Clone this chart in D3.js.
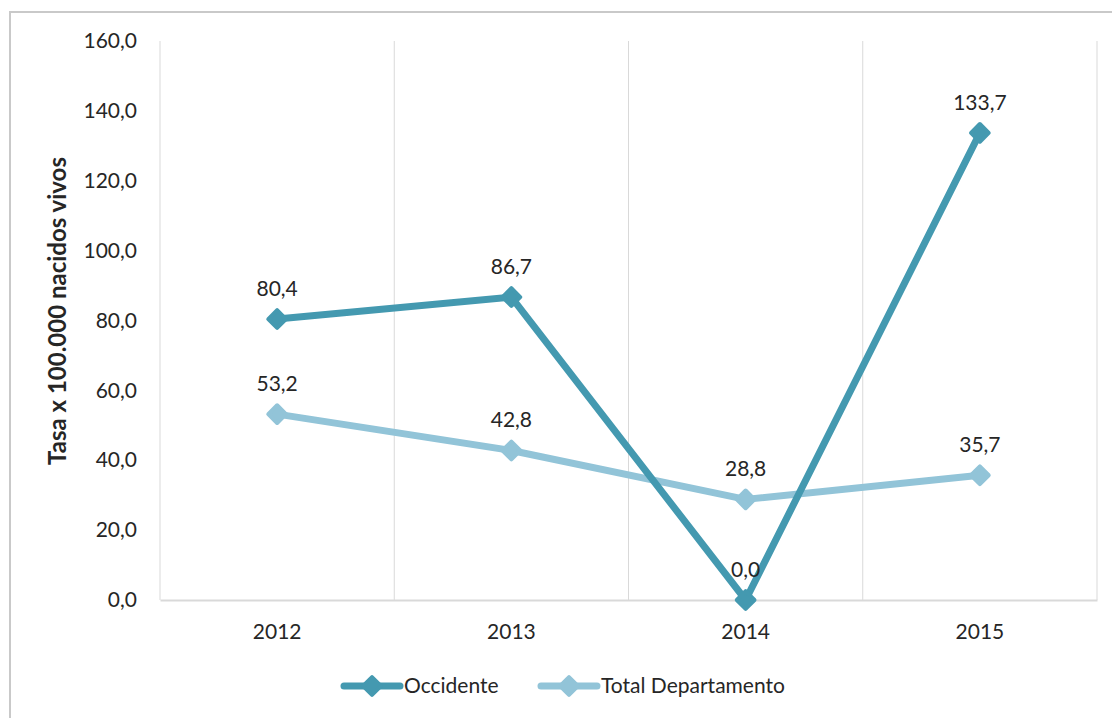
<!DOCTYPE html>
<html>
<head>
<meta charset="utf-8">
<script src="https://cdn.jsdelivr.net/npm/d3@7"></script>
<style>
  body { margin: 0; background: #fff; }
  text { font-family: Lato, "Open Sans", sans-serif; fill: #262626; }
</style>
</head>
<body>
<div id="chart"></div>
<script>
const years = ["2012", "2013", "2014", "2015"];
const occidente = [80.4, 86.7, 0.0, 133.7];
const totalDepto = [53.2, 42.8, 28.8, 35.7];
const yTicks = [0, 20, 40, 60, 80, 100, 120, 140, 160];

const W = 1112, H = 718;
const margin = { top: 41, right: 15, bottom: 118, left: 160 };
const width = W - margin.left - margin.right;
const height = H - margin.top - margin.bottom;
const fontSize = 21;

const svg = d3.select("#chart").append("svg")
    .attr("width", W).attr("height", H);

// marco del gráfico
svg.append("rect")
    .attr("x", 10).attr("y", 12)
    .attr("width", W).attr("height", H)
    .attr("fill", "none").attr("stroke", "#c9c9c9").attr("stroke-width", 2);

const g = svg.append("g").attr("transform", `translate(${margin.left},${margin.top})`);

const x = d3.scaleBand().domain(years).range([0, width]);
const y = d3.scaleLinear().domain([0, 160]).range([height, 0]);

// líneas verticales de la cuadrícula
g.selectAll(".vgrid")
    .data(d3.range(years.length + 1))
    .enter().append("line")
    .attr("x1", i => i * x.step()).attr("x2", i => i * x.step())
    .attr("y1", 0).attr("y2", height)
    .attr("stroke", "#d9d9d9").attr("stroke-width", 1);

// eje x
const xAxis = g.append("g")
    .attr("transform", `translate(0,${height})`)
    .call(d3.axisBottom(x).tickSize(0).tickPadding(24));
xAxis.select(".domain").attr("stroke", "#d9d9d9").attr("stroke-width", 2);
xAxis.selectAll("text").attr("font-size", fontSize).style("font-family", "Lato, sans-serif").attr("fill", "#262626");

// eje y
const yAxis = g.append("g")
    .call(d3.axisLeft(y).tickValues(yTicks).tickSize(0).tickPadding(23)
        .tickFormat(d => d3.format(".1f")(d).replace(".", ",")));
yAxis.select(".domain").remove();
yAxis.selectAll("text").attr("font-size", fontSize).style("font-family", "Lato, sans-serif").attr("fill", "#262626");

svg.append("text")
    .attr("transform", "translate(66,311) rotate(-90)")
    .attr("text-anchor", "middle")
    .attr("font-size", 24).attr("font-weight", "bold")
    .text("Tasa x 100.000 nacidos vivos");

const series = [
  { name: "Occidente", values: occidente, color: "#4499b0" },
  { name: "Total Departamento", values: totalDepto, color: "#92c4d8" }
];

const line = d3.line()
    .x((d, i) => x(years[i]) + x.bandwidth() / 2)
    .y(d => y(d));

const diamond = d3.symbol().type(d3.symbolDiamond2).size(200);
const fmt = v => d3.format(".1f")(v).replace(".", ",");

// primero la serie Total y luego Occidente encima
[series[1], series[0]].forEach(s => {
  g.append("path")
      .datum(s.values)
      .attr("d", line)
      .attr("fill", "none")
      .attr("stroke", s.color).attr("stroke-width", 7)
      .attr("stroke-linejoin", "round").attr("stroke-linecap", "round");

  g.selectAll(null)
      .data(s.values)
      .enter().append("path")
      .attr("d", diamond)
      .attr("transform", (d, i) => `translate(${x(years[i]) + x.bandwidth() / 2},${y(d)})`)
      .attr("fill", s.color)
      .attr("stroke", s.color).attr("stroke-width", 4).attr("stroke-linejoin", "round");
});

series.forEach(s => {
  g.selectAll(null)
      .data(s.values)
      .enter().append("text")
      .attr("x", (d, i) => x(years[i]) + x.bandwidth() / 2)
      .attr("y", d => y(d) - 23)
      .attr("text-anchor", "middle")
      .attr("font-size", fontSize)
      .text(d => fmt(d));
});

// leyenda
const legendX = [344, 541];
const legend = svg.append("g").attr("transform", "translate(0,686)");
series.forEach((s, i) => {
  const lg = legend.append("g").attr("transform", `translate(${legendX[i]},0)`);
  lg.append("line")
      .attr("x1", 0).attr("x2", 56).attr("y1", 0).attr("y2", 0)
      .attr("stroke", s.color).attr("stroke-width", 7).attr("stroke-linecap", "round");
  lg.append("path")
      .attr("d", diamond)
      .attr("transform", "translate(28,0)")
      .attr("fill", s.color).attr("stroke", s.color).attr("stroke-width", 4).attr("stroke-linejoin", "round");
  lg.append("text")
      .attr("x", 60).attr("y", 0).attr("dy", "0.35em")
      .attr("font-size", fontSize)
      .text(s.name);
});
</script>
</body>
</html>
